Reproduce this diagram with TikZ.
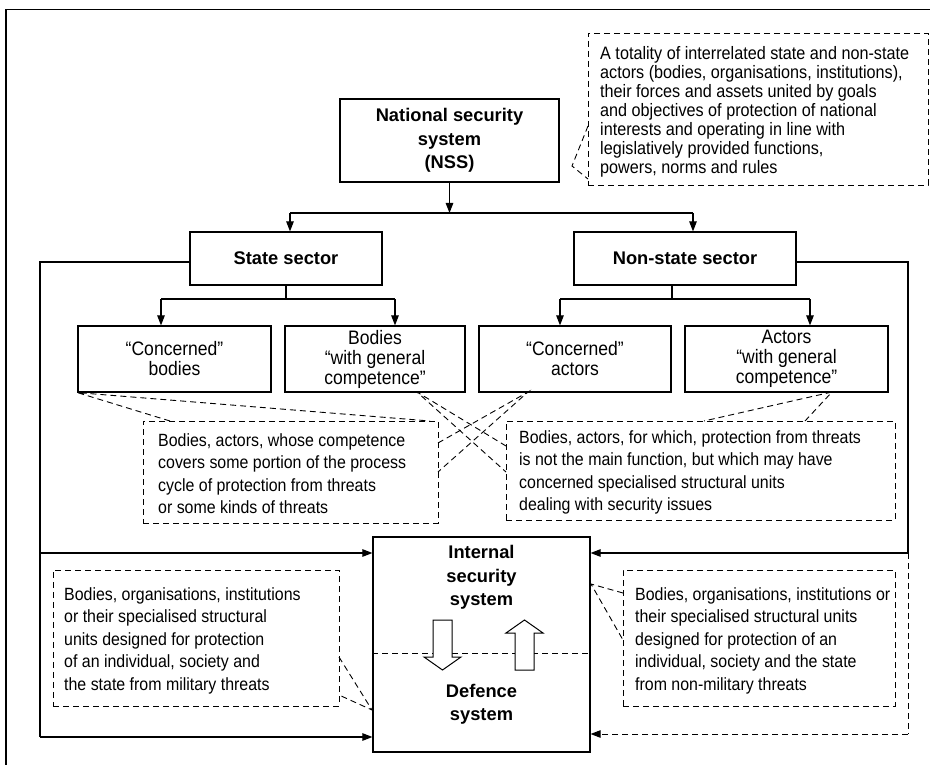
\documentclass[tikz,border=0pt]{standalone}
\usepackage{fontspec}
\setmainfont{Liberation Sans}
\newfontfamily\narrowsans[FakeStretch=0.9]{Liberation Sans}
\usetikzlibrary{arrows.meta}
\begin{document}
\begin{tikzpicture}[x=1pt,y=-1pt,
  box/.style={draw,line width=1.2pt,inner sep=0pt,align=center},
  boldlabel/.style={font=\fontsize{18.3}{23.5}\selectfont\bfseries},
  smalllabel/.style={font=\narrowsans\fontsize{19.5}{20}\selectfont},
  notebox/.style={draw,line width=0.9pt,dash pattern=on 6pt off 4pt,inner sep=0pt},
  notetext/.style={inner sep=0pt,anchor=west,align=left,font=\narrowsans\fontsize{17.7}{22.5}\selectfont},
  conn/.style={line width=1.1pt},
  arr/.style={line width=1.1pt,-{Triangle[length=10pt,width=7.5pt]}},
  dsh/.style={line width=0.9pt,dash pattern=on 6pt off 4pt},
  hollow/.style={draw,line width=1pt,fill=white,line join=miter}
]
\useasboundingbox (0,0) rectangle (930,765);

% frame
\coordinate (fbl) at (6,765);
\coordinate (ftl) at (6,9.5);
\coordinate (ftr) at (930,9.5);
\draw[line width=1.3pt] (fbl) -- (ftl) -- (ftr);

% nodes
\node[box,boldlabel,minimum width=219pt,minimum height=83pt] (nss) at (449.5,140.5) {National security\\system\\(NSS)};
\node[notebox,minimum width=340pt,minimum height=152pt] (n0) at (758,109) {};
\node[notetext,font=\narrowsans\fontsize{18}{19}\selectfont] (t0) at (600,112) {A totality of interrelated state and non-state\\actors (bodies, organisations, institutions),\\their forces and assets united by goals\\and objectives of protection of national\\interests and operating in line with\\legislatively provided functions,\\powers, norms and rules};

\node[box,boldlabel,minimum width=192pt,minimum height=53pt] (st) at (286,258.5) {State sector};
\node[box,boldlabel,minimum width=222pt,minimum height=53pt] (ns) at (685,258.5) {Non-state sector};

\node[box,smalllabel,minimum width=193pt,minimum height=66pt] (b1) at (174.5,359) {“Concerned”\\bodies};
\node[box,smalllabel,minimum width=180pt,minimum height=66pt] (b2) at (375,359) {Bodies\\“with general\\competence”};
\node[box,smalllabel,minimum width=192pt,minimum height=66pt] (b3) at (575,359) {“Concerned”\\actors};
\node[box,smalllabel,minimum width=203pt,minimum height=66pt] (b4) at (786.5,359) {Actors\\“with general\\competence”};

\node[notebox,minimum width=295pt,minimum height=102pt] (nl) at (290.5,472) {};
\node[notetext] (tl) at (158,473.5) {Bodies, actors, whose competence\\covers some portion of the process\\cycle of protection from threats\\or some kinds of threats};
\node[notebox,minimum width=389pt,minimum height=99pt] (nr) at (700.5,470.5) {};
\node[notetext] (tr) at (519,472.5) {Bodies, actors, for which, protection from threats\\is not the main function, but which may have\\concerned specialised structural units\\dealing with security issues};

\node[box,minimum width=217pt,minimum height=215pt] (isd) at (481.5,644.5) {};
\node[boldlabel,align=center,inner sep=0pt] (ist) at (481.5,577.5) {Internal\\security\\system};
\node[boldlabel,align=center,inner sep=0pt] (dft) at (481.5,704.5) {Defence\\system};

\node[notebox,minimum width=286pt,minimum height=136pt] (nll) at (196,638) {};
\node[notetext] (tll) at (64,640.5) {Bodies, organisations, institutions\\or their specialised structural\\units designed for protection\\of an individual, society and\\the state from military threats};
\node[notebox,minimum width=272pt,minimum height=136pt] (nrr) at (759,638) {};
\node[notetext] (trr) at (635,640.5) {Bodies, organisations, institutions or\\their specialised structural units\\designed for protection of an\\individual, society and the state\\from non-military threats};

% tree connectors
\coordinate (bar0) at (449.5,213);
\coordinate (barL) at (290,213);
\coordinate (barR) at (693,213);
\draw[arr] (nss.south) -- (bar0);
\draw[conn] (barL) -- (barR);
\draw[arr] (barL) -- (barL |- st.north);
\draw[arr] (barR) -- (barR |- ns.north);

\coordinate (sj) at (286,299);
\coordinate (sjL) at (161,299);
\coordinate (sjR) at (395,299);
\draw[conn] (st.south) -- (sj);
\draw[conn] (sjL) -- (sjR);
\draw[arr] (sjL) -- (sjL |- b1.north);
\draw[arr] (sjR) -- (sjR |- b2.north);

\coordinate (nj) at (672,299);
\coordinate (njL) at (560,299);
\coordinate (njR) at (810,299);
\draw[conn] (nj |- ns.south) -- (nj);
\draw[conn] (njL) -- (njR);
\draw[arr] (njL) -- (njL |- b3.north);
\draw[arr] (njR) -- (njR |- b4.north);

% side loops
\coordinate (lt) at (40,262);
\coordinate (lm) at (40,553);
\coordinate (lb) at (40,737);
\draw[conn] (lt -| st.west) -- (lt) -- (lb);
\draw[arr] (lm) -- (lm -| isd.west);
\draw[arr] (lb) -- (lb -| isd.west);

\coordinate (rt) at (908,262);
\coordinate (rm) at (908,553);
\coordinate (rb) at (908,734);
\draw[conn] (rt -| ns.east) -- (rt) -- (rm);
\draw[arr] (rm) -- (rm -| isd.east);
\draw[dsh] (rm) -- (rb);
\draw[dsh,-{Triangle[length=10pt,width=7.5pt]}] (rb) -- (rb -| isd.east);

% callouts
\coordinate (w0) at (572,166);
\coordinate (w0a) at (588,126);
\coordinate (w0b) at (588,179);
\draw[dsh] (w0a) -- (w0) -- (w0b);

\coordinate (w1a) at (170,421);
\coordinate (w1b) at (430,421);
\draw[dsh] (w1a) -- (b1.south west) -- (w1b);

\coordinate (w2) at (417,392);
\coordinate (w2a) at (506,446);
\coordinate (w2b) at (506,472);
\draw[dsh] (w2a) -- (w2) -- (w2b);

\coordinate (w3) at (528,392);
\coordinate (w3a) at (438,443);
\coordinate (w3b) at (438,472);
\draw[dsh] (w3a) -- (w3) -- (w3b);

\coordinate (w4) at (832,392);
\coordinate (w4a) at (805,421);
\coordinate (w4b) at (704,421);
\draw[dsh] (w4a) -- (w4) -- (w4b);

\coordinate (w5) at (372,710);
\coordinate (w5a) at (339,657);
\coordinate (w5b) at (339,695);
\draw[dsh] (w5a) -- (w5) -- (w5b);

\coordinate (w6) at (591,584);
\coordinate (w6a) at (623,593);
\coordinate (w6b) at (623,640);
\draw[dsh] (w6a) -- (w6) -- (w6b);

% inner divider and hollow arrows
\coordinate (mid) at (481.5,653);
\draw[dsh] (mid -| isd.west) -- (mid -| isd.east);
\draw[hollow] (433,620) -- (452,620) -- (452,657) -- (461,657) -- (442.5,670) -- (424,657) -- (433,657) -- cycle;
\draw[hollow] (524.5,620) -- (543,633) -- (534,633) -- (534,670) -- (515,670) -- (515,633) -- (506,633) -- cycle;
\end{tikzpicture}
\end{document}
